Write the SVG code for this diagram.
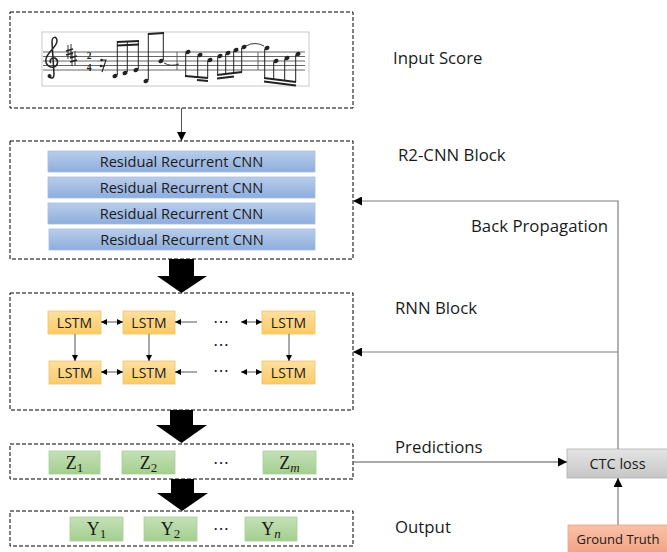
<svg xmlns="http://www.w3.org/2000/svg" width="667" height="552" viewBox="0 0 667 552">
<defs>
<linearGradient id="gBlue" x1="0" y1="0" x2="0" y2="1"><stop offset="0" stop-color="#b8cdeb"/><stop offset="1" stop-color="#8eaddd"/></linearGradient>
<linearGradient id="gGold" x1="0" y1="0" x2="0" y2="1"><stop offset="0" stop-color="#fde0a0"/><stop offset="1" stop-color="#fbca66"/></linearGradient>
<linearGradient id="gGreen" x1="0" y1="0" x2="0" y2="1"><stop offset="0" stop-color="#c5e0b8"/><stop offset="1" stop-color="#a3cf8f"/></linearGradient>
<linearGradient id="gGray" x1="0" y1="0" x2="0" y2="1"><stop offset="0" stop-color="#e4e4e4"/><stop offset="1" stop-color="#c6c6c6"/></linearGradient>
<linearGradient id="gSalmon" x1="0" y1="0" x2="0" y2="1"><stop offset="0" stop-color="#f9c1a8"/><stop offset="1" stop-color="#f3a182"/></linearGradient>
<marker id="ah" viewBox="0 0 10 10" refX="10" refY="5" markerWidth="9" markerHeight="9" markerUnits="userSpaceOnUse" orient="auto-start-reverse"><path d="M0,0 L10,5 L0,10 Z" fill="#000"/></marker>
<marker id="as" viewBox="0 0 10 10" refX="10" refY="5" markerWidth="6" markerHeight="6" markerUnits="userSpaceOnUse" orient="auto-start-reverse"><path d="M0,0 L10,5 L0,10 Z" fill="#000"/></marker>
</defs>
<style>
.dash{fill:none;stroke:#000;stroke-width:1;stroke-dasharray:4,2}
.blue{fill:url(#gBlue);stroke:#a8bddd;stroke-width:0.8}
.gold{fill:url(#gGold);stroke:#f0c26a;stroke-width:0.8}
.green{fill:url(#gGreen);stroke:#a9d097;stroke-width:0.8}
.gray{fill:url(#gGray);stroke:#b0b0b0;stroke-width:0.8}
.salmon{fill:url(#gSalmon);stroke:#eea587;stroke-width:0.8}
.t{font-family:"Open Sans","Noto Sans",sans-serif;fill:#1a1a1a}
.lbl{font-size:16.8px}
.rr{font-size:14.6px;text-anchor:middle}
.ls{font-size:14px;text-anchor:middle}
.m{font-family:"Liberation Serif","DejaVu Serif",serif;font-size:18px;text-anchor:middle;fill:#1a1a1a}
.sub{font-size:13px}
.dots{font-family:"Open Sans",sans-serif;font-size:16px;text-anchor:middle;fill:#1a1a1a}
.ts{font-family:"Liberation Serif",serif;font-weight:bold;font-size:9.5px;text-anchor:middle;fill:#222}
.conn{fill:none;stroke:#555;stroke-width:1}
.fb{fill:none;stroke:#7f7f7f;stroke-width:1.2}
.big{fill:#000}
.staff{stroke:#555;stroke-width:0.9}
.note{fill:#222}
.stem{stroke:#222;stroke-width:1}
.beam{stroke:#222;stroke-width:2}
</style>

<g id="input-score">
<rect class="dash" x="10" y="12" width="343" height="96"/>
<rect x="42" y="32" width="267" height="54" fill="#fff" stroke="#bbb" stroke-width="0.8"/>
<g class="staff">
<line x1="43" y1="52" x2="305" y2="52"/><line x1="43" y1="56.5" x2="305" y2="56.5"/><line x1="43" y1="61" x2="305" y2="61"/><line x1="43" y1="65.5" x2="305" y2="65.5"/><line x1="43" y1="70" x2="305" y2="70"/>
<line x1="177" y1="52" x2="177" y2="70"/><line x1="258" y1="52" x2="258" y2="70"/>
</g>
<path d="M49,77 Q54,80 54,74 L52,42 C52,36 57,36 57,41 C57,47 47,52 46,59 C45,65 50,68 54,67 C58,66 59,60 55,58 C51,57 49,61 51,63" fill="none" stroke="#222" stroke-width="1.5"/>
<circle cx="49.5" cy="76" r="2" class="note"/>
<g stroke="#222" stroke-width="0.9"><line x1="68" y1="45" x2="68" y2="59"/><line x1="71" y1="44" x2="71" y2="58"/><line x1="66" y1="51" x2="73" y2="49" stroke-width="1.8"/><line x1="66" y1="55" x2="73" y2="53" stroke-width="1.8"/>
<line x1="72" y1="52" x2="72" y2="66"/><line x1="75" y1="51" x2="75" y2="65"/><line x1="70" y1="58" x2="77" y2="56" stroke-width="1.8"/><line x1="70" y1="62" x2="77" y2="60" stroke-width="1.8"/></g>
<text class="ts" x="89" y="59">2</text>
<text class="ts" x="89" y="70.5">4</text>
<path d="M101,60 L106,60 L102,72 M101,66 L105,66" fill="none" stroke="#222" stroke-width="1.1"/>
<circle cx="101.5" cy="60" r="1.3" class="note"/><circle cx="101" cy="66" r="1.3" class="note"/>
<g class="note"><ellipse cx="115" cy="76" rx="2.6" ry="2" transform="rotate(-20 115 76)"/><ellipse cx="125" cy="73" rx="2.6" ry="2" transform="rotate(-20 125 73)"/><ellipse cx="136" cy="70" rx="2.6" ry="2" transform="rotate(-20 136 70)"/>
<ellipse cx="146" cy="81" rx="2.6" ry="2" transform="rotate(-20 146 81)"/><ellipse cx="161" cy="61" rx="2.6" ry="2" transform="rotate(-20 161 61)"/>
<ellipse cx="188" cy="52" rx="2.6" ry="2" transform="rotate(-20 188 52)"/><ellipse cx="200" cy="55" rx="2.6" ry="2" transform="rotate(-20 200 55)"/><ellipse cx="210" cy="60" rx="2.6" ry="2" transform="rotate(-20 210 60)"/>
<ellipse cx="220" cy="56" rx="2.6" ry="2" transform="rotate(-20 220 56)"/><ellipse cx="228" cy="53" rx="2.6" ry="2" transform="rotate(-20 228 53)"/><ellipse cx="236" cy="50" rx="2.6" ry="2" transform="rotate(-20 236 50)"/><ellipse cx="244" cy="47" rx="2.6" ry="2" transform="rotate(-20 244 47)"/>
<ellipse cx="267" cy="48" rx="2.6" ry="2" transform="rotate(-20 267 48)"/><ellipse cx="276" cy="61" rx="2.6" ry="2" transform="rotate(-20 276 61)"/><ellipse cx="287" cy="58" rx="2.6" ry="2" transform="rotate(-20 287 58)"/><ellipse cx="298" cy="54" rx="2.6" ry="2" transform="rotate(-20 298 54)"/></g>
<g class="stem"><line x1="117.3" y1="75" x2="117.3" y2="41"/><line x1="127.3" y1="72" x2="127.3" y2="41"/><line x1="138.3" y1="69" x2="138.3" y2="41"/>
<line x1="148.3" y1="80" x2="148.3" y2="33"/><line x1="163.3" y1="60" x2="163.3" y2="32"/>
<line x1="185.7" y1="53" x2="185.7" y2="76"/><line x1="197.7" y1="56" x2="197.7" y2="77"/><line x1="207.7" y1="61" x2="207.7" y2="78"/>
<line x1="217.7" y1="57" x2="217.7" y2="75"/><line x1="225.7" y1="54" x2="225.7" y2="74"/><line x1="233.7" y1="51" x2="233.7" y2="73"/><line x1="241.7" y1="48" x2="241.7" y2="72"/>
<line x1="264.7" y1="49" x2="264.7" y2="78"/><line x1="273.7" y1="62" x2="273.7" y2="80"/><line x1="284.7" y1="59" x2="284.7" y2="81"/><line x1="295.7" y1="55" x2="295.7" y2="82"/></g>
<g class="beam"><line x1="117" y1="42" x2="139" y2="41"/><line x1="117" y1="45.5" x2="139" y2="44.5"/>
<line x1="148" y1="34" x2="164" y2="33"/>
<line x1="185" y1="76" x2="208" y2="78"/><line x1="197" y1="80" x2="208" y2="81"/>
<line x1="217" y1="75" x2="242" y2="72"/><line x1="217" y1="78.5" x2="234" y2="76.5"/>
<line x1="264" y1="78" x2="296" y2="82"/><line x1="264" y1="81.5" x2="296" y2="85.5"/></g>
<path d="M164,63 Q171,67 179,64" fill="none" stroke="#222" stroke-width="0.9"/>
<path d="M246,46 Q255,41 264,46" fill="none" stroke="#222" stroke-width="0.9"/>
</g>

<g id="r2cnn-block">
<rect class="dash" x="10" y="141" width="343" height="118"/>
<rect class="blue" x="48" y="151" width="267" height="21"/>
<text class="t rr" x="181.5" y="166.5">Residual Recurrent CNN</text>
<rect class="blue" x="48" y="177" width="267" height="21"/>
<text class="t rr" x="181.5" y="192.5">Residual Recurrent CNN</text>
<rect class="blue" x="48" y="203" width="267" height="21"/>
<text class="t rr" x="181.5" y="218.5">Residual Recurrent CNN</text>
<rect class="blue" x="49" y="229" width="266" height="21"/>
<text class="t rr" x="182" y="244.5">Residual Recurrent CNN</text>
</g>

<g id="rnn-block">
<rect class="dash" x="10" y="293" width="343" height="117"/>
<rect class="gold" x="48" y="311" width="53" height="23"/><text class="t ls" x="74.5" y="327.5">LSTM</text>
<rect class="gold" x="123" y="311" width="52" height="23"/><text class="t ls" x="149" y="327.5">LSTM</text>
<rect class="gold" x="262" y="311" width="53" height="23"/><text class="t ls" x="288.5" y="327.5">LSTM</text>
<rect class="gold" x="49" y="361" width="52" height="23"/><text class="t ls" x="75" y="377.5">LSTM</text>
<rect class="gold" x="123" y="361" width="52" height="23"/><text class="t ls" x="149" y="377.5">LSTM</text>
<rect class="gold" x="262" y="361" width="53" height="23"/><text class="t ls" x="288.5" y="377.5">LSTM</text>
<text class="dots" x="221" y="327">⋯</text>
<text class="dots" x="221" y="350">⋯</text>
<text class="dots" x="221" y="376">⋯</text>
</g>

<g id="predictions">
<rect class="dash" x="10" y="444" width="343" height="35"/>
<rect class="green" x="49" y="451" width="51" height="23"/><text class="m" x="74.5" y="468.5">Z<tspan class="sub" dy="3">1</tspan></text>
<rect class="green" x="122" y="451" width="53" height="23"/><text class="m" x="148.5" y="468.5">Z<tspan class="sub" dy="3">2</tspan></text>
<text class="dots" x="221" y="468">⋯</text>
<rect class="green" x="263" y="451" width="53" height="23"/><text class="m" x="289.5" y="468.5">Z<tspan class="sub" dy="3" font-style="italic">m</tspan></text>
</g>

<g id="output">
<rect class="dash" x="10" y="511" width="343" height="35"/>
<rect class="green" x="70" y="517" width="53" height="24"/><text class="m" x="96.5" y="534.5">Y<tspan class="sub" dy="3">1</tspan></text>
<rect class="green" x="144" y="517" width="53" height="24"/><text class="m" x="170.5" y="534.5">Y<tspan class="sub" dy="3">2</tspan></text>
<text class="dots" x="221" y="534">⋯</text>
<rect class="green" x="245" y="517" width="52" height="24"/><text class="m" x="271" y="534.5">Y<tspan class="sub" dy="3" font-style="italic">n</tspan></text>
</g>

<g id="ctc-loss">
<rect class="gray" x="567" y="449" width="102" height="29"/>
<text class="t" x="617.5" y="468.5" font-size="14.5" text-anchor="middle">CTC loss</text>
</g>

<g id="ground-truth">
<rect class="salmon" x="568" y="525" width="101" height="30"/>
<text class="t" x="618" y="544" font-size="13" text-anchor="middle">Ground Truth</text>
</g>

<g id="labels">
<text class="t lbl" x="393" y="64">Input Score</text>
<text class="t lbl" x="398" y="161">R2-CNN Block</text>
<text class="t lbl" x="471" y="232">Back Propagation</text>
<text class="t lbl" x="395" y="314">RNN Block</text>
<text class="t lbl" x="395" y="453">Predictions</text>
<text class="t lbl" x="395" y="533">Output</text>
</g>

<g id="connectors">
<line class="conn" x1="181.5" y1="108" x2="181.5" y2="141" marker-end="url(#ah)"/>
<polygon class="big" points="169,259 194,259 194,276 207,276 181.5,293 157,276 169,276"/>
<polygon class="big" points="170,410 193,410 193,425 207,425 181.5,443 156,425 170,425"/>
<polygon class="big" points="171,479 194,479 194,493 208,493 182,511 157,493 171,493"/>
<line class="conn" x1="101" y1="322" x2="123" y2="322" marker-start="url(#as)" marker-end="url(#as)"/>
<line class="conn" x1="175" y1="322" x2="197" y2="322" marker-start="url(#as)"/>
<line class="conn" x1="241" y1="322" x2="262" y2="322" marker-start="url(#as)" marker-end="url(#as)"/>
<line class="conn" x1="101" y1="372" x2="123" y2="372" marker-start="url(#as)" marker-end="url(#as)"/>
<line class="conn" x1="175" y1="372" x2="197" y2="372" marker-start="url(#as)"/>
<line class="conn" x1="241" y1="372" x2="262" y2="372" marker-start="url(#as)" marker-end="url(#as)"/>
<line class="conn" x1="75" y1="334" x2="75" y2="361" marker-end="url(#as)"/>
<line class="conn" x1="149" y1="334" x2="149" y2="361" marker-end="url(#as)"/>
<line class="conn" x1="289" y1="334" x2="289" y2="361" marker-end="url(#as)"/>
<polyline class="fb" points="618,449 618,201 353,201" marker-end="url(#ah)"/>
<line class="fb" x1="618" y1="352" x2="353" y2="352" marker-end="url(#ah)"/>
<line class="conn" x1="353" y1="462" x2="567" y2="462" marker-end="url(#ah)"/>
<line class="fb" x1="618" y1="525" x2="618" y2="478" marker-end="url(#ah)"/>
</g>
</svg>
